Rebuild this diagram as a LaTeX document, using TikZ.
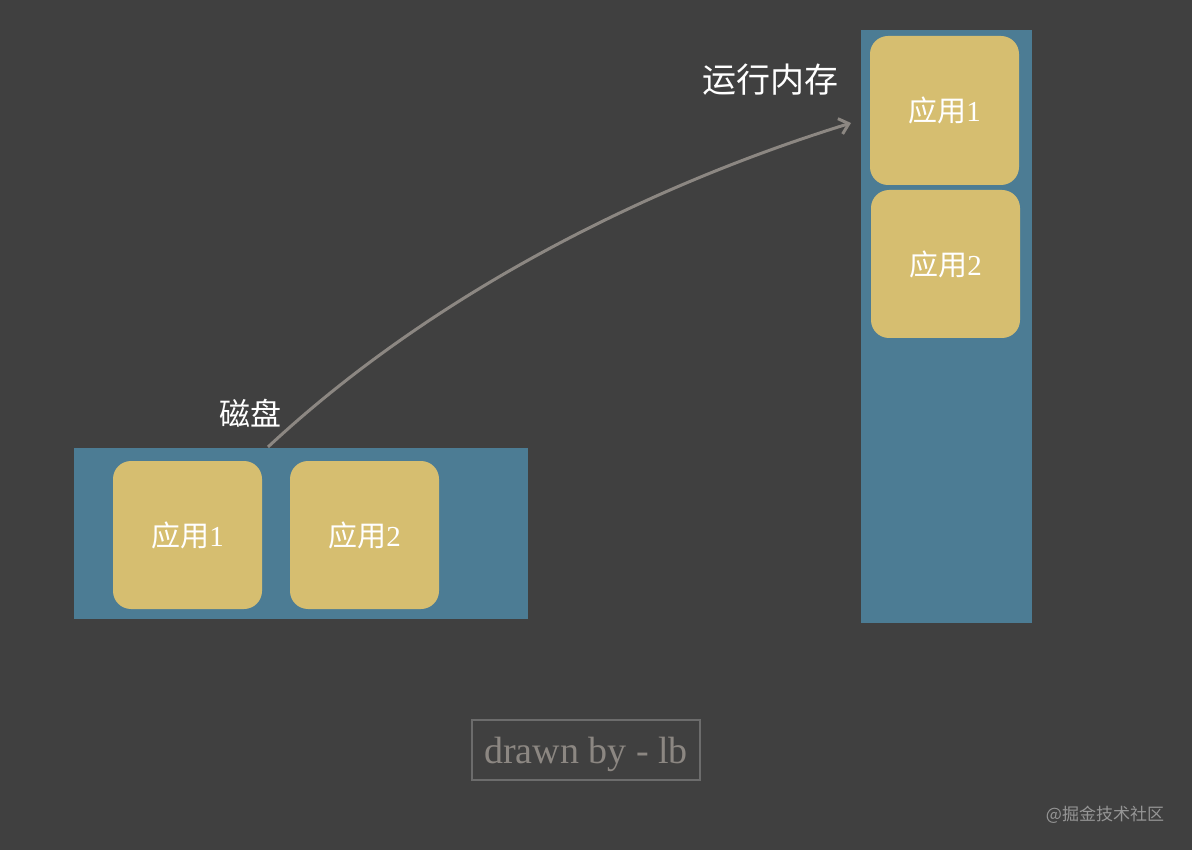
\documentclass[tikz,border=0pt]{standalone}
\usepackage{fontspec}
\setmainfont{Liberation Serif}
\newfontfamily\cjk{Noto Sans CJK SC}
\usetikzlibrary{arrows.meta}
\definecolor{bg}{RGB}{64,64,64}
\definecolor{blu}{RGB}{76,124,148}
\definecolor{yel}{RGB}{214,190,112}
\definecolor{arr}{RGB}{140,135,130}
\definecolor{frm}{RGB}{108,108,108}
\definecolor{wm}{RGB}{150,150,150}
\begin{document}
\begin{tikzpicture}[x=1pt,y=-1pt,
  area/.style={fill=blu,draw=none},
  app/.style={fill=yel,draw=none,rounded corners=18pt,text=white,font=\fontsize{29}{31}\selectfont},
  lbl/.style={text=white,inner sep=0pt}]
\useasboundingbox[fill=bg] (0,0) rectangle (1192,850);
% disk
\node[area,minimum width=454pt,minimum height=171pt,inner sep=0pt] (disk) at (301,533.5) {};
\node[app,minimum width=149pt,minimum height=148pt,inner sep=0pt] (d1) at (187.5,535) {{\cjk 应用}1};
\node[app,minimum width=149pt,minimum height=148pt,inner sep=0pt] (d2) at (364.5,535) {{\cjk 应用}2};
\node[lbl,font=\cjk\fontsize{31}{33}\selectfont] (disklbl) at (250,413) {磁盘};
% memory
\node[area,minimum width=171pt,minimum height=593pt,inner sep=0pt] (mem) at (946.5,326.5) {};
\node[app,minimum width=149pt,minimum height=149pt,inner sep=0pt] (m1) at (944.5,110.5) {{\cjk 应用}1};
\node[app,minimum width=149pt,minimum height=148pt,inner sep=0pt] (m2) at (945.5,264) {{\cjk 应用}2};
\node[lbl,font=\cjk\fontsize{34}{36}\selectfont] (memlbl) at (770,80) {运行内存};
% arrow
\coordinate (astart) at (268,447);
\coordinate (aend) at (851,123);
\draw[arr,line width=3pt,-{Straight Barb[length=9pt,width=16pt]}] (astart) .. controls (429,297) and (641,188) .. (aend);
% signature
\node[draw=frm,line width=2.5pt,minimum width=228pt,minimum height=60pt,inner sep=0pt] (sig) at (586,750) {};
\node[text=arr,inner sep=0pt,font=\fontsize{38}{40}\selectfont] (sigtxt) at (586,754) {drawn by - lb};
\node[text=wm,font=\cjk\fontsize{17}{19}\selectfont,inner sep=0pt] (wmk) at (1105,815) {@掘金技术社区};
\end{tikzpicture}
\end{document}
